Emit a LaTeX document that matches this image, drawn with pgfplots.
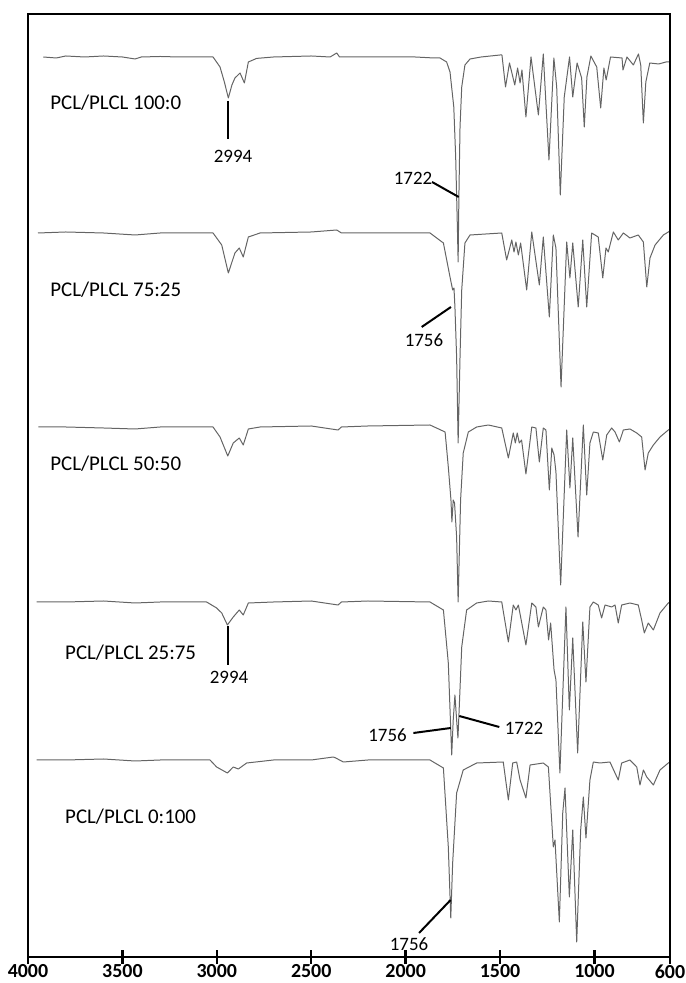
\documentclass[border=0pt]{standalone}
\usepackage{pgfplots}
\pgfplotsset{compat=1.18}
\usepackage{fontspec}
\setmainfont{Carlito}
\definecolor{spec}{RGB}{100,100,100}
\begin{document}
\begin{tikzpicture}
\path[use as bounding box] (-28bp,-26bp) rectangle (658bp,957bp);
\begin{axis}[
  scale only axis, width=642bp, height=943bp,
  x dir=reverse, xmin=600, xmax=4000, ymin=0, ymax=943,
  axis line style={line width=2pt, black},
  xtick={4000,3500,3000,2500,2000,1500,1000,600},
  xticklabels={4000,3500,3000,2500,2000,1500,1000,600},
  major tick length=0pt,
  xticklabel style={font=\bfseries\fontsize{20}{20}\selectfont, yshift=-4bp},
  ytick=\empty,
  clip=false,
]
% PCL/PLCL 100:0
\addplot[spec, line width=1pt, no markers, line join=round] coordinates {(3919,900)(3850,899)(3800,901)(3700,900)(3600,901)(3500,900)(3433,898)(3400,900)(3300,900.5)(3200,900)(3100,900)(3020,900)(2983,890)(2960,875)(2939,859)(2920,872)(2904,879)(2877,884)(2854,874)(2833,895)(2789,898.6)(2700,900)(2500,901)(2400,900)(2365,904)(2350,900)(2200,900)(1950,900)(1850,899)(1818,899)(1783,895)(1765,885)(1745,850)(1735,800)(1726,730)(1722,695)(1718,760)(1712,830)(1703,870)(1686,892)(1659,898)(1600,900)(1500,902)(1490,902)(1471,870)(1450,894)(1422,872)(1407,889)(1394,874)(1384,887)(1363,840)(1336,900)(1297,842)(1271,903)(1241,797)(1215,899)(1200,870)(1181,762)(1160,860)(1132,900)(1115,860)(1092,894)(1068,879)(1054,830)(1040,880)(1019,901)(988,890)(967,849)(950,889)(938,877)(915,900)(854,899)(849,887)(828,900)(794,892)(767,903)(755,892)(741,834)(728,875)(707,894)(660,893)(621,895)(600,895)};
% PCL/PLCL 75:25
\addplot[spec, line width=1pt, no markers, line join=round] coordinates {(3947,724)(3800,725)(3600,724)(3433,722)(3300,724)(3100,724)(3020,724)(2974,712)(2939,684)(2904,704)(2881,709)(2860,700)(2833,720)(2771,724)(2500,725)(2365,727)(2340,724)(2200,724)(1871,724)(1800,714)(1765,680)(1751,667)(1744,669)(1739,650)(1730,600)(1722,514)(1712,600)(1703,667)(1686,714)(1659,722)(1491,724)(1465,697)(1438,717)(1426,705)(1416,715)(1403,702)(1391,714)(1359,667)(1332,725)(1292,672)(1271,720)(1239,640)(1218,722)(1204,709)(1177,570)(1147,715)(1130,679)(1115,714)(1086,650)(1062,717)(1041,650)(1015,724)(980,720)(956,679)(939,709)(927,705)(900,725)(874,717)(847,724)(812,719)(768,722)(741,715)(723,670)(706,699)(679,712)(635,722)(609,725)(600,726)};
% PCL/PLCL 50:50
\addplot[spec, line width=1pt, no markers, line join=round] coordinates {(3945,530)(3800,530)(3600,529)(3433,528)(3300,530)(3100,530)(3020,530)(2983,520)(2942,501)(2913,514)(2881,519)(2860,512)(2833,528)(2771,530)(2500,531)(2358,527)(2340,530)(2200,531)(1871,532)(1791,525)(1774,490)(1760,457)(1755,435)(1748,457)(1741,454)(1730,420)(1722,355)(1709,457)(1695,504)(1668,525)(1624,530)(1562,532)(1491,529)(1456,499)(1430,524)(1419,514)(1409,524)(1398,514)(1386,517)(1363,483)(1332,530)(1310,529)(1292,495)(1271,529)(1257,527)(1239,467)(1226,509)(1214,502)(1204,485)(1179,372)(1147,527)(1130,469)(1115,519)(1087,420)(1059,532)(1041,462)(1024,514)(1006,525)(980,524)(956,497)(935,522)(909,529)(891,525)(868,515)(847,527)(812,528)(776,524)(750,520)(732,487)(715,504)(688,512)(653,520)(609,527)(600,528)};
% PCL/PLCL 25:75
\addplot[spec, line width=1pt, no markers, line join=round] coordinates {(3954,355)(3800,355)(3600,356)(3433,354)(3300,355)(3100,355)(3054,355)(3001,349)(2974,344)(2944,332)(2913,340)(2881,347)(2860,342)(2833,354)(2700,355)(2500,356)(2358,352)(2340,355)(2200,356)(1871,355)(1800,347)(1774,294)(1761,227)(1756,202)(1748,237)(1739,262)(1730,237)(1723,219)(1716,250)(1703,310)(1677,347)(1624,354)(1562,356)(1491,355)(1456,315)(1430,352)(1416,347)(1403,352)(1363,312)(1332,354)(1310,350)(1297,330)(1271,350)(1257,347)(1243,317)(1232,334)(1214,287)(1204,277)(1183,184)(1151,350)(1133,247)(1115,319)(1089,204)(1062,335)(1045,275)(1024,350)(1006,355)(980,352)(962,339)(944,352)(909,350)(891,352)(874,334)(856,352)(812,354)(768,352)(750,337)(736,324)(715,334)(688,327)(653,344)(609,354)(600,355)};
% PCL/PLCL 0:100
\addplot[spec, line width=1pt, no markers, line join=round] coordinates {(3954,197)(3800,197)(3600,198)(3433,196)(3300,197)(3100,197)(3036,197)(3001,190)(2944,184)(2913,190)(2886,188)(2842,194)(2700,197)(2500,197)(2383,200)(2370,199)(2330,195)(2200,197)(1871,197)(1800,189)(1774,110)(1761,39)(1751,94)(1730,164)(1695,187)(1624,194)(1483,195)(1456,157)(1433,194)(1412,195)(1394,177)(1363,159)(1341,192)(1271,194)(1244,190)(1218,110)(1209,117)(1186,35)(1168,144)(1156,169)(1133,60)(1115,127)(1094,15)(1073,127)(1059,160)(1045,119)(1024,177)(1006,195)(971,194)(918,195)(874,177)(856,194)(812,197)(776,190)(759,172)(741,187)(723,180)(688,172)(653,187)(609,194)(600,195)};
% frame and ticks
\draw[line width=2.5pt, black] (axis cs:4000,0) rectangle (axis cs:600,943);
\draw[line width=2.5pt, black] (axis cs:3500,-7) -- (axis cs:3500,7);
\draw[line width=2.5pt, black] (axis cs:3000,-7) -- (axis cs:3000,7);
\draw[line width=2.5pt, black] (axis cs:2500,-7) -- (axis cs:2500,7);
\draw[line width=2.5pt, black] (axis cs:2000,-7) -- (axis cs:2000,7);
\draw[line width=2.5pt, black] (axis cs:1500,-7) -- (axis cs:1500,7);
\draw[line width=2.5pt, black] (axis cs:1000,-7) -- (axis cs:1000,7);
\draw[line width=2.5pt, black] (axis cs:4000,-7) -- (axis cs:4000,7);
\draw[line width=2.5pt, black] (axis cs:600,-7) -- (axis cs:600,7);
% annotations
\draw[line width=2pt] (axis cs:2939,856) -- (axis cs:2939,818);
\node[font=\fontsize{19}{19}\selectfont] at (axis cs:2914,801) {2994};
\draw[line width=2pt] (axis cs:1860,775) -- (axis cs:1719,760);
\node[font=\fontsize{19}{19}\selectfont] at (axis cs:1961,779) {1722};
\draw[line width=2pt] (axis cs:1915,630) -- (axis cs:1760,650);
\node[font=\fontsize{19}{19}\selectfont] at (axis cs:1903,617) {1756};
\draw[line width=2pt] (axis cs:2941,331) -- (axis cs:2941,292);
\node[font=\fontsize{19}{19}\selectfont] at (axis cs:2935,280) {2994};
\draw[line width=2pt] (axis cs:1959,224) -- (axis cs:1761,229);
\node[font=\fontsize{19}{19}\selectfont] at (axis cs:2096,222) {1756};
\draw[line width=2pt] (axis cs:1716,241) -- (axis cs:1504,230);
\node[font=\fontsize{19}{19}\selectfont] at (axis cs:1373,229) {1722};
\draw[line width=2pt] (axis cs:1929,24) -- (axis cs:1762,57);
\node[font=\fontsize{19}{19}\selectfont] at (axis cs:1982,13) {1756};
\node[anchor=west, inner sep=0pt, font=\fontsize{21}{21}\selectfont] at (axis cs:3883,854) {PCL/PLCL 100:0};
\node[anchor=west, inner sep=0pt, font=\fontsize{21}{21}\selectfont] at (axis cs:3883,667) {PCL/PLCL 75:25};
\node[anchor=west, inner sep=0pt, font=\fontsize{21}{21}\selectfont] at (axis cs:3883,493) {PCL/PLCL 50:50};
\node[anchor=west, inner sep=0pt, font=\fontsize{21}{21}\selectfont] at (axis cs:3804,304) {PCL/PLCL 25:75};
\node[anchor=west, inner sep=0pt, font=\fontsize{21}{21}\selectfont] at (axis cs:3804,140) {PCL/PLCL 0:100};
\end{axis}
\end{tikzpicture}
\end{document}
